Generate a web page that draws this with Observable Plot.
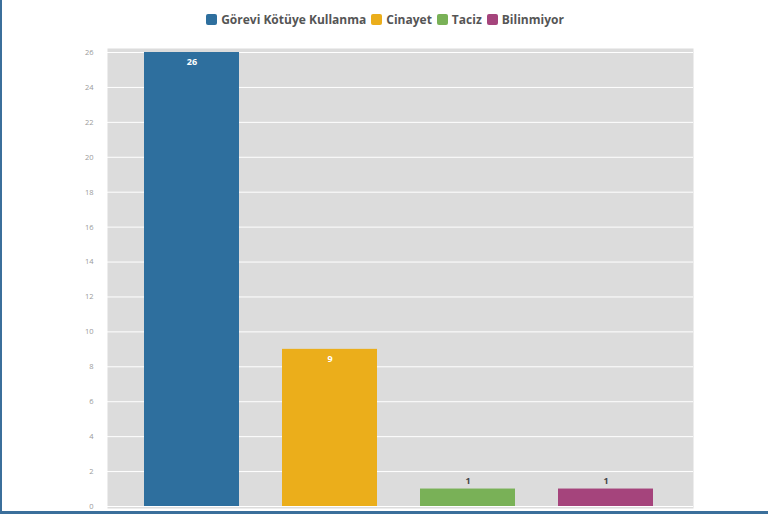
<!DOCTYPE html>
<html>
<head>
<meta charset="utf-8">
<script src="https://cdn.jsdelivr.net/npm/d3@7"></script>
<script src="https://cdn.jsdelivr.net/npm/@observablehq/plot@0.6"></script>
<style>
  html, body { margin: 0; padding: 0; background: #fff; }
  #wrap { position: relative; width: 766px; height: 511px; border-left: 2px solid #3b6f9b; border-bottom: 3px solid #3b6f9b; overflow: hidden; font-family: "Open Sans", "DejaVu Sans", sans-serif; }
  #legend { height: 38px; display: flex; justify-content: center; align-items: center; gap: 5px; font-size: 12px; font-weight: bold; color: #555; box-sizing: border-box; padding-left: 0px; }
  #legend .item { display: flex; align-items: center; gap: 4px; }
  #legend .sw { width: 11px; height: 11px; border-radius: 2px; display: inline-block; }
  #chart { position: absolute; left: -2px; top: 38px; }
</style>
</head>
<body>
<div id="wrap">
  <div id="legend"></div>
  <div id="chart"></div>
</div>
<script>
const categories = ["Görevi Kötüye Kullanma", "Cinayet", "Taciz", "Bilinmiyor"];
const values = [26, 9, 1, 1];
const colors = ["#2e6f9e", "#ebae1b", "#79b157", "#a5447c"];
const yTicks = [0, 2, 4, 6, 8, 10, 12, 14, 16, 18, 20, 22, 24, 26];

const data = categories.map((c, i) => ({category: c, value: values[i]}));

const legend = document.getElementById("legend");
categories.forEach((c, i) => {
  const item = document.createElement("span");
  item.className = "item";
  const sw = document.createElement("span");
  sw.className = "sw";
  sw.style.background = colors[i];
  const t = document.createElement("span");
  t.textContent = c;
  item.appendChild(sw);
  item.appendChild(t);
  legend.appendChild(item);
});

const chart = Plot.plot({
  width: 768,
  height: 476,
  marginLeft: 107,
  marginRight: 75,
  marginTop: 14,
  marginBottom: 8,
  style: {fontFamily: "'Open Sans', 'DejaVu Sans', sans-serif", background: "transparent"},
  x: {domain: categories, range: [107, 690], paddingInner: 0.314, paddingOuter: 0.26, axis: null},
  y: {domain: [0, 26], ticks: yTicks, label: null},
  color: {domain: categories, range: colors},
  marks: [
    Plot.frame({fill: "#dcdcdc", stroke: null, insetTop: -4, insetBottom: -2}),
    Plot.gridY(yTicks, {stroke: "#ffffff", strokeOpacity: 1, strokeWidth: 1}),
    Plot.axisY({ticks: yTicks, tickSize: 0, tickPadding: 14, fontSize: 7.5, fill: "#9a9a9a", label: null}),
    Plot.barY(data, {x: "category", y: "value", fill: "category"}),
    Plot.text(data.filter(d => d.value > 3), {x: "category", y: "value", text: d => String(d.value), fill: "#ffffff", dy: 10, fontSize: 9, fontWeight: "bold"}),
    Plot.text(data.filter(d => d.value <= 3), {x: "category", y: "value", text: d => String(d.value), fill: "#444444", dy: -8, fontSize: 9, fontWeight: "bold"})
  ]
});
document.getElementById("chart").appendChild(chart);
</script>
</body>
</html>
